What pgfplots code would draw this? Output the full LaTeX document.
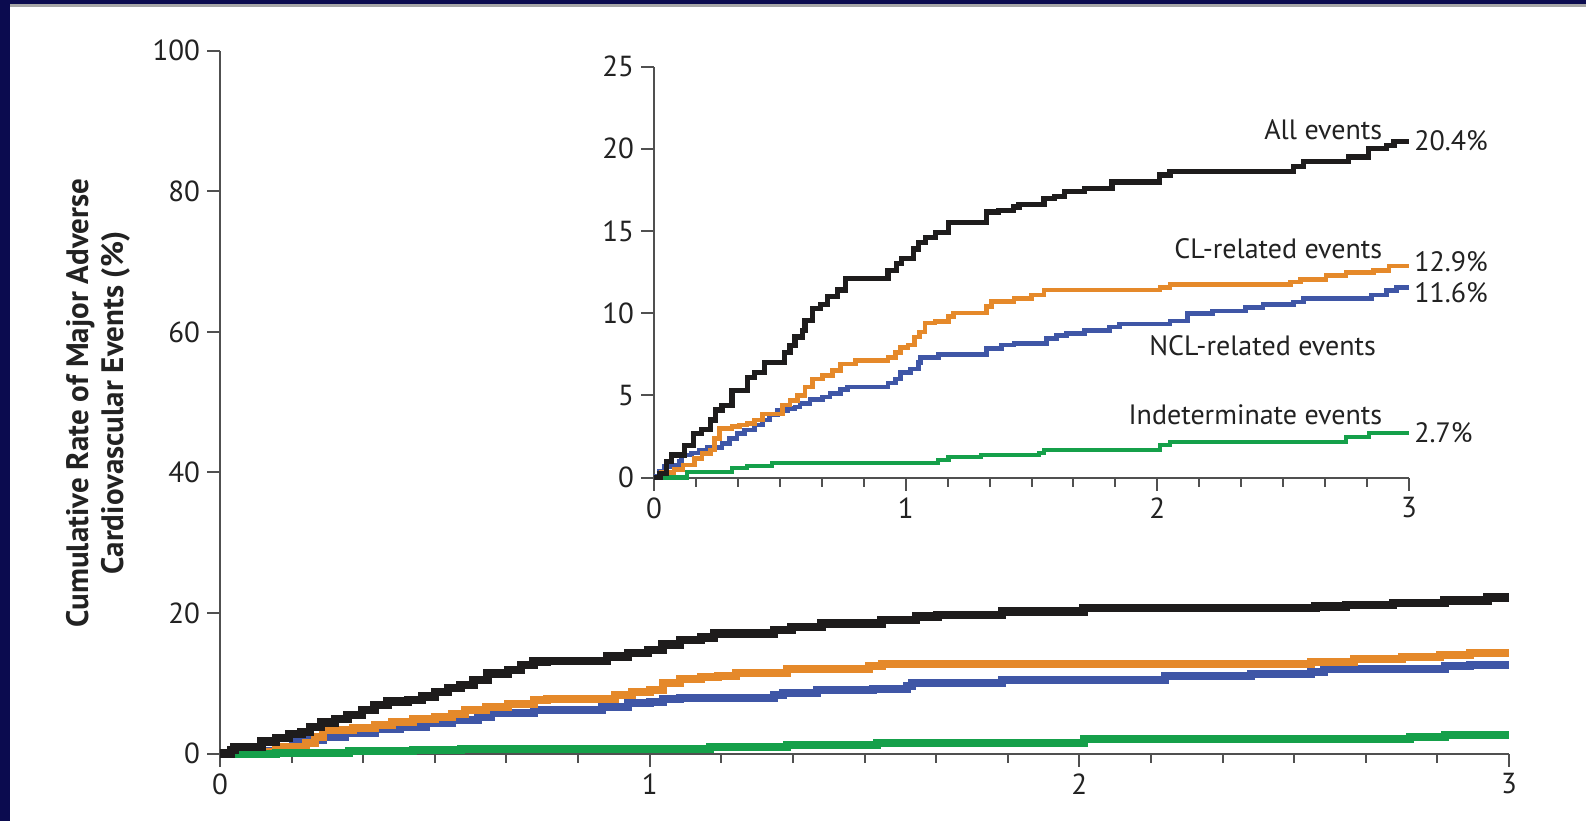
\documentclass[border=0pt]{standalone}
\usepackage{fontspec}
\setmainfont{PT Sans}
\usepackage{pgfplots}
\pgfplotsset{compat=1.18}
\definecolor{navy}{HTML}{0B0B4F}
\definecolor{cblack}{HTML}{1E1C1C}
\definecolor{corange}{HTML}{E5892A}
\definecolor{cblue}{HTML}{3F56A6}
\definecolor{cgreen}{HTML}{15A04A}
\definecolor{axgray}{HTML}{505050}
\definecolor{txt}{HTML}{222222}
\pgfplotsset{myax/.style={
  scale only axis, axis lines=left,
  axis line style={axgray, line width=1pt, -},
  tick align=outside, tick style={axgray, line width=1pt},
  major tick length=6.5pt, minor tick length=4.5pt,
  xmin=0, xmax=3, xtick={0,1,2,3}, minor x tick num=5,
  ymin=0,
  ticklabel style={font=\fontsize{14.5}{16}\selectfont, text=txt},
  /pgf/number format/assume math mode=true,
  clip=false,
}}
\begin{document}
\begin{tikzpicture}
\useasboundingbox (0,0) rectangle (793pt,410.5pt);
\fill[white] (0,0) rectangle (793pt,410.5pt);
\fill[navy] (0,0) rectangle (5pt,410.5pt);
\fill[navy] (0,408.5pt) rectangle (793pt,410.5pt);
\fill[gray!70] (5pt,407pt) rectangle (793pt,408.5pt);

\node[rotate=90, align=center, font=\bfseries\fontsize{15.5}{17.5}\selectfont, text=txt] at (49pt,209pt) {Cumulative Rate of Major Adverse\\Cardiovascular Events (\%)};

% main axis
\begin{axis}[myax, at={(110pt,33.7pt)}, anchor=south west, width=644.5pt, height=351.45pt,
  ymax=100, ytick={0,20,40,60,80,100}]
\addplot[const plot, cblue, line width=4pt] coordinates {
(0,0) (0.03,0.3) (0.13,0.75) (0.17,1.7) (0.21,1.9) (0.24,2.4) (0.29,2.9) (0.36,3.45) (0.42,3.8) (0.48,4.3) (0.54,4.8) (0.6,5.2) (0.63,5.8) (0.73,6.2) (0.89,6.7) (0.95,7.2) (1.0,7.4) (1.03,7.7) (1.07,7.9) (1.29,8.3) (1.31,8.6) (1.39,9.0) (1.52,9.2) (1.60,9.6) (1.61,10.0) (1.82,10.5) (2.2,11.0) (2.4,11.3) (2.54,11.6) (2.57,12.0) (2.85,12.4) (2.91,12.6) (3.0,12.6)};
\addplot[const plot, corange, line width=4pt] coordinates {
(0,0) (0.05,0.1) (0.065,0.27) (0.13,0.5) (0.14,1.0) (0.2,1.5) (0.22,2.4) (0.24,3.4) (0.31,3.6) (0.36,4.1) (0.40,4.5) (0.45,4.9) (0.5,5.2) (0.54,5.7) (0.57,6.2) (0.62,6.7) (0.67,7.05) (0.73,7.6) (0.76,7.8) (0.92,8.4) (0.96,8.7) (1.0,9.1) (1.03,10.0) (1.07,10.6) (1.12,10.9) (1.16,11.1) (1.2,11.5) (1.32,12.0) (1.51,12.4) (1.54,12.7) (2.02,12.8) (2.54,13.0) (2.64,13.4) (2.75,13.8) (2.84,14.0) (2.91,14.3) (3.0,14.3)};
\addplot[const plot, cgreen, line width=4pt] coordinates {
(0,0) (0.13,0.15) (0.3,0.4) (0.45,0.55) (0.56,0.7) (1.14,1.0) (1.32,1.2) (1.53,1.55) (2.01,2.05) (2.77,2.4) (2.85,2.65) (3.0,2.65)};
\addplot[const plot, cblack, line width=4.2pt] coordinates {
(0,0) (0.026,0.5) (0.034,0.98) (0.097,1.7) (0.13,2.2) (0.16,2.8) (0.19,3.1) (0.21,3.8) (0.235,4.4) (0.267,4.9) (0.297,5.5) (0.33,6.2) (0.36,6.9) (0.39,7.4) (0.437,7.6) (0.47,8.1) (0.50,8.8) (0.53,9.3) (0.56,9.8) (0.59,10.5) (0.623,11.4) (0.67,11.9) (0.70,12.6) (0.73,13.1) (0.76,13.2) (0.90,13.8) (0.95,14.3) (0.996,14.7) (1.03,15.5) (1.07,16.2) (1.12,16.5) (1.15,17.1) (1.29,17.6) (1.33,18.05) (1.40,18.5) (1.54,19.0) (1.62,19.5) (1.67,19.7) (1.82,20.2) (2.01,20.7) (2.55,20.9) (2.62,21.1) (2.73,21.4) (2.85,21.8) (2.95,22.2) (3.0,22.2)};
\end{axis}

% inset
\begin{axis}[myax, at={(327pt,171.75pt)}, anchor=south west, width=377.5pt, height=205.5pt,
  ymax=25, ytick={0,5,10,15,20,25}]
\addplot[const plot, cblue, line width=2.3pt] coordinates {
(0,0) (0.01,0.1) (0.02,0.4) (0.04,0.66) (0.075,0.76) (0.10,0.96) (0.11,1.37) (0.15,1.5) (0.18,1.67) (0.21,1.83) (0.27,2.07) (0.30,2.38) (0.33,2.68) (0.36,2.9) (0.40,3.2) (0.43,3.5) (0.46,3.8) (0.49,4.06) (0.53,4.2) (0.56,4.3) (0.58,4.5) (0.62,4.75) (0.67,4.9) (0.70,5.1) (0.74,5.36) (0.77,5.5) (0.93,5.76) (0.96,6.0) (0.98,6.4) (1.02,6.6) (1.05,7.0) (1.06,7.3) (1.13,7.5) (1.32,7.85) (1.38,8.05) (1.43,8.15) (1.56,8.45) (1.60,8.65) (1.64,8.75) (1.71,8.96) (1.81,9.16) (1.85,9.33) (2.05,9.53) (2.12,9.98) (2.22,10.13) (2.35,10.34) (2.42,10.54) (2.54,10.68) (2.58,10.89) (2.85,11.09) (2.91,11.39) (2.95,11.56) (3.0,11.56)};
\addplot[const plot, corange, line width=2.3pt] coordinates {
(0,0) (0.03,0.3) (0.08,0.5) (0.115,0.76) (0.16,1.16) (0.19,1.47) (0.225,1.67) (0.24,2.38) (0.26,2.99) (0.31,3.1) (0.34,3.2) (0.37,3.3) (0.40,3.5) (0.43,3.86) (0.51,4.4) (0.54,4.7) (0.57,5.0) (0.60,5.5) (0.63,6.0) (0.67,6.2) (0.71,6.5) (0.74,6.9) (0.80,7.1) (0.93,7.3) (0.96,7.6) (0.98,7.9) (1.01,8.05) (1.036,8.55) (1.056,8.86) (1.076,9.4) (1.116,9.5) (1.17,9.8) (1.19,10.0) (1.32,10.4) (1.34,10.7) (1.43,10.9) (1.50,11.1) (1.55,11.4) (2.01,11.55) (2.05,11.75) (2.53,11.9) (2.57,12.04) (2.67,12.3) (2.75,12.47) (2.86,12.6) (2.92,12.87) (3.0,12.87)};
\addplot[const plot, cgreen, line width=2.1pt] coordinates {
(0,0) (0.13,0.35) (0.31,0.56) (0.37,0.7) (0.47,0.86) (1.13,1.06) (1.17,1.26) (1.30,1.36) (1.53,1.47) (1.55,1.67) (2.01,1.97) (2.05,2.17) (2.75,2.44) (2.84,2.72) (3.0,2.72)};
\addplot[const plot, cblack, line width=2.6pt] coordinates {
(0,0) (0.024,0.25) (0.05,0.96) (0.07,1.37) (0.12,1.97) (0.157,2.68) (0.19,2.9) (0.225,3.5) (0.245,4.1) (0.27,4.4) (0.31,5.3) (0.37,6.1) (0.40,6.4) (0.44,7.0) (0.52,7.6) (0.54,8.05) (0.56,8.55) (0.59,8.96) (0.60,9.57) (0.63,10.3) (0.66,10.5) (0.69,11.0) (0.73,11.4) (0.76,12.1) (0.93,12.6) (0.963,13.0) (0.983,13.3) (1.03,13.9) (1.05,14.3) (1.08,14.6) (1.12,14.9) (1.17,15.5) (1.32,16.15) (1.37,16.25) (1.43,16.45) (1.45,16.6) (1.55,16.96) (1.59,17.07) (1.63,17.4) (1.71,17.6) (1.82,17.97) (2.01,18.4) (2.05,18.6) (2.54,18.9) (2.58,19.2) (2.76,19.5) (2.84,20.0) (2.91,20.2) (2.94,20.46) (3.0,20.46)};
\begin{scope}[every node/.style={font=\fontsize{14}{16}\selectfont, text=txt, inner sep=0pt}]
\node[anchor=east] at (axis cs:2.895,21.15) {All events};
\node[anchor=east] at (axis cs:2.895,13.9) {CL-related events};
\node[anchor=east] at (axis cs:2.87,8.0) {NCL-related events};
\node[anchor=east] at (axis cs:2.895,3.8) {Indeterminate events};
\node[anchor=west] at (axis cs:3.02,20.5) {20.4\%};
\node[anchor=west] at (axis cs:3.02,13.15) {12.9\%};
\node[anchor=west] at (axis cs:3.02,11.25) {11.6\%};
\node[anchor=west] at (axis cs:3.02,2.7) {2.7\%};
\end{scope}
\end{axis}
\end{tikzpicture}
\end{document}
